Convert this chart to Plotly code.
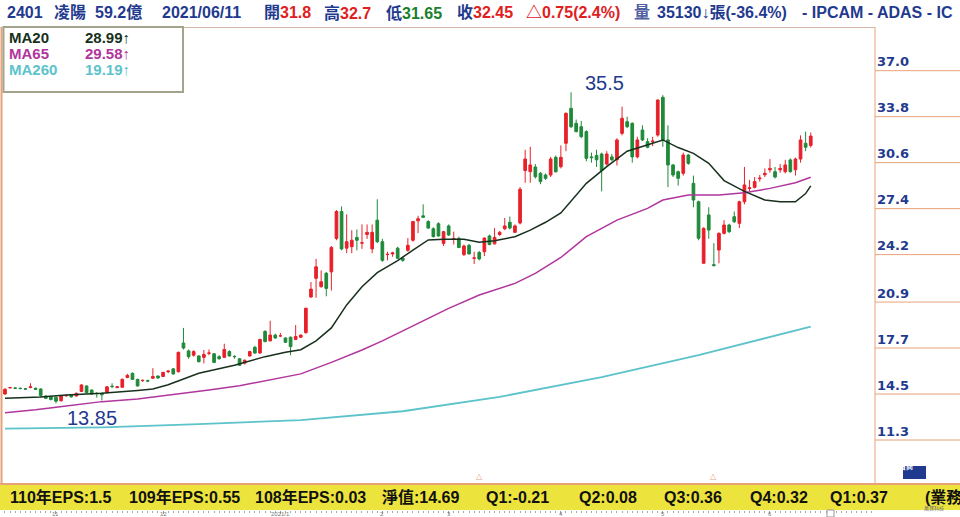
import plotly.graph_objects as go
import pandas as pd

# ---------------- data ----------------
holidays = ["2021-01-01", "2021-02-08", "2021-02-09", "2021-02-10", "2021-02-11",
            "2021-02-12", "2021-02-15", "2021-02-16", "2021-03-01", "2021-04-02", "2021-04-05"]
dates = [d.strftime("%Y-%m-%d") for d in pd.bdate_range("2020-10-19", "2021-06-11")
         if d.strftime("%Y-%m-%d") not in holidays]

opens = [14.50, 14.93, 14.92, 14.90, 14.86, 14.95, 14.90, 14.85, 14.36, 14.30,
         14.28, 14.03, 14.38, 14.45, 14.36, 14.68, 15.06, 14.78, 14.55, 14.55,
         14.62, 15.05, 14.95, 14.97, 15.65, 15.94, 15.52, 15.43, 15.42, 15.60,
         15.75, 15.72, 16.05, 16.25, 16.05, 18.05, 17.50, 17.20, 17.15, 17.05,
         17.33, 17.30, 17.10, 17.05, 17.45, 17.12, 16.95, 16.65, 17.15, 17.75,
         17.35, 18.85, 18.20, 18.60, 18.55, 18.40, 18.45, 18.30, 18.45, 18.77,
         21.25, 22.55, 21.97, 22.90, 23.00, 25.33, 27.20, 24.65, 24.75, 25.40,
         25.00, 25.60, 24.60, 26.60, 25.10, 24.20, 24.25, 24.65, 23.95, 24.50,
         25.20, 26.55, 26.90, 26.50, 26.00, 26.35, 24.98, 26.20, 25.30, 25.33,
         24.20, 24.85, 23.95, 24.35, 24.40, 25.50, 24.95, 25.60, 26.00, 26.45,
         25.75, 26.40, 30.05, 29.97, 30.30, 29.86, 29.74, 29.74, 30.97, 30.32,
         31.95, 34.38, 33.34, 33.10, 32.76, 31.00, 31.10, 31.20, 30.50, 31.00,
         30.80, 32.64, 33.45, 33.34, 31.00, 32.87, 32.06, 32.05, 32.52, 35.15,
         32.18, 30.44, 29.97, 29.86, 31.13, 29.16, 27.88, 23.60, 26.96, 23.50,
         24.52, 25.68, 26.26, 26.84, 26.38, 27.88, 28.80, 28.88, 29.48, 29.75,
         30.10, 29.97, 30.10, 29.97, 30.79, 30.10, 30.85, 31.95, 31.80]
highs = [14.90, 15.00, 14.97, 14.95, 14.92, 15.25, 14.95, 14.90, 14.40, 14.35,
         14.32, 14.42, 14.45, 14.50, 14.60, 15.18, 15.10, 14.80, 14.62, 14.60,
         15.05, 15.25, 15.05, 15.58, 15.90, 16.00, 15.56, 15.50, 15.50, 16.30,
         15.80, 16.05, 16.15, 16.30, 17.45, 19.10, 17.60, 17.55, 17.20, 17.56,
         17.60, 17.35, 17.20, 18.00, 17.55, 17.20, 17.00, 16.90, 17.50, 17.85,
         18.35, 18.95, 19.60, 18.70, 18.75, 18.45, 18.50, 19.30, 18.65, 20.50,
         22.30, 23.90, 23.10, 23.00, 24.80, 27.30, 27.55, 27.00, 25.90, 25.95,
         26.30, 26.30, 26.30, 28.05, 25.30, 24.40, 24.40, 24.75, 24.05, 25.35,
         26.55, 26.90, 27.70, 26.60, 26.10, 26.45, 25.85, 26.30, 25.80, 25.45,
         24.90, 24.95, 24.40, 24.45, 25.40, 25.60, 26.05, 25.85, 26.75, 26.85,
         26.30, 28.90, 31.50, 31.70, 30.50, 29.95, 29.85, 31.00, 31.10, 31.80,
         34.10, 35.50, 33.60, 33.50, 32.85, 31.30, 31.50, 31.30, 31.40, 31.20,
         32.30, 34.50, 33.80, 33.40, 32.40, 33.20, 32.30, 32.40, 35.00, 35.30,
         33.20, 30.50, 30.05, 31.30, 31.20, 29.70, 27.95, 26.10, 27.50, 25.00,
         25.75, 26.60, 26.35, 27.20, 27.95, 30.30, 29.40, 29.60, 29.74, 30.20,
         30.85, 30.30, 30.50, 30.80, 30.90, 30.95, 32.50, 32.76, 32.70]
lows = [14.45, 14.88, 14.85, 14.83, 14.80, 14.90, 14.80, 14.30, 14.15, 14.05,
        13.85, 13.98, 14.30, 14.25, 14.33, 14.65, 14.55, 14.45, 14.25, 14.05,
        14.55, 14.90, 14.90, 14.95, 15.60, 15.48, 15.02, 15.35, 15.35, 15.55,
        15.55, 15.70, 15.95, 15.85, 16.00, 17.60, 16.95, 17.10, 16.70, 16.63,
        17.20, 16.65, 16.90, 17.00, 17.10, 16.95, 16.45, 16.55, 17.10, 17.30,
        17.30, 18.10, 18.15, 18.35, 18.45, 18.05, 17.20, 18.25, 18.40, 18.70,
        21.20, 21.20, 21.90, 21.30, 21.70, 25.20, 24.50, 24.30, 24.30, 24.50,
        24.60, 25.30, 24.30, 25.00, 23.70, 23.80, 24.05, 23.90, 23.70, 24.40,
        25.10, 25.70, 26.75, 26.00, 25.40, 25.45, 24.80, 25.50, 24.90, 24.65,
        24.10, 24.20, 23.55, 23.80, 24.10, 24.85, 24.90, 25.50, 25.90, 25.95,
        25.70, 26.30, 29.20, 29.20, 29.50, 29.10, 29.40, 29.60, 29.90, 30.20,
        31.40, 33.00, 32.70, 32.30, 30.70, 30.60, 30.30, 28.60, 30.40, 30.70,
        30.40, 32.50, 33.00, 30.60, 30.90, 32.10, 31.60, 31.75, 32.40, 31.70,
        28.90, 29.60, 29.00, 29.70, 30.45, 27.50, 25.20, 23.55, 25.30, 23.36,
        23.60, 25.60, 25.70, 26.40, 26.05, 27.70, 28.60, 28.80, 29.28, 29.60,
        29.90, 29.50, 29.90, 29.85, 29.90, 29.70, 30.60, 31.40, 31.65]
closes = [14.83, 14.95, 14.90, 14.88, 14.85, 15.00, 14.83, 14.40, 14.20, 14.12,
          14.00, 14.38, 14.40, 14.30, 14.55, 15.13, 14.60, 14.50, 14.53, 14.45,
          15.00, 15.02, 15.00, 15.52, 15.80, 15.52, 15.06, 15.45, 15.40, 15.72,
          15.62, 16.00, 16.10, 15.90, 17.40, 17.70, 17.10, 17.45, 16.75, 17.25,
          17.35, 16.70, 16.95, 17.60, 17.15, 17.10, 16.50, 16.85, 17.45, 17.35,
          18.30, 18.15, 18.60, 18.40, 18.55, 18.10, 17.80, 18.50, 18.60, 20.47,
          21.80, 23.35, 22.31, 21.85, 24.70, 27.20, 24.60, 25.10, 25.20, 25.20,
          25.02, 25.75, 25.75, 25.10, 23.80, 24.22, 24.32, 23.95, 23.80, 24.85,
          26.50, 26.70, 26.80, 26.05, 25.45, 25.50, 25.80, 25.57, 25.32, 24.70,
          24.80, 24.25, 23.97, 23.90, 25.35, 24.90, 25.40, 25.75, 26.20, 26.05,
          26.20, 28.75, 30.85, 30.44, 29.62, 29.28, 29.51, 30.85, 29.97, 30.97,
          34.03, 33.10, 32.76, 32.41, 30.90, 30.95, 30.80, 30.05, 31.20, 30.80,
          32.18, 33.69, 33.10, 31.00, 32.18, 32.18, 31.67, 32.10, 34.96, 32.18,
          30.44, 29.74, 29.51, 31.13, 30.55, 28.00, 25.34, 26.03, 25.91, 23.45,
          25.68, 26.26, 25.80, 26.49, 27.88, 29.05, 28.85, 29.28, 29.52, 29.86,
          30.20, 29.60, 30.20, 30.44, 29.97, 30.85, 32.18, 31.67, 32.45]

ma20_pos = [0, 7, 12, 19, 26, 29, 32, 34, 38, 45, 51, 55, 58, 61, 64, 67, 70, 73, 77, 80,
            83, 86, 90, 93, 96, 100, 103, 106, 109, 114, 118, 122, 126, 129, 132, 135,
            138, 141, 145, 149, 152, 155, 157, 158]
ma20_val = [14.20, 14.30, 14.43, 14.55, 14.75, 14.85, 15.15, 15.40, 15.95, 16.50, 17.10,
            17.40, 17.58, 18.20, 19.10, 20.70, 21.97, 22.95, 23.78, 24.52, 25.22, 25.27,
            25.27, 25.06, 25.16, 25.45, 25.90, 26.45, 27.10, 29.16, 30.32, 31.40, 31.85,
            32.18, 31.65, 31.25, 30.55, 29.35, 28.60, 28.00, 27.88, 27.88, 28.45, 28.99]
ma65_pos = [0, 6, 12, 19, 26, 33, 40, 46, 52, 58, 64, 70, 74, 77, 81, 87, 93, 100, 104,
            109, 114, 120, 126, 129, 134, 140, 145, 150, 155, 158]
ma65_val = [13.20, 13.40, 13.67, 13.97, 14.15, 14.45, 14.78, 15.08, 15.48, 15.90, 16.70,
            17.56, 18.20, 18.72, 19.42, 20.46, 21.39, 22.20, 22.90, 24.00, 25.45, 26.60,
            27.42, 28.00, 28.35, 28.35, 28.50, 28.81, 29.20, 29.58]
ma260_pos = [0, 19, 38, 58, 78, 97, 117, 136, 158]
ma260_val = [12.09, 12.18, 12.41, 12.69, 13.30, 14.30, 15.68, 17.20, 19.19]

month_labels = ["11", "12", "2021/1", "2", "3", "4", "5", "6"]
y_labels = ["37.0", "33.8", "30.6", "27.4", "24.2", "20.9", "17.7", "14.5", "11.3"]
event_pos = [93, 139]

legend_rows = [("MA20", "28.99↑", "#17301c"), ("MA65", "29.58↑", "#b0359c"),
               ("MA260", "19.19↑", "#5cc3cb")]

NAVY = "#1f3a8f"
RED_T = "#e0201e"
GREEN_T = "#1a7f2a"
header = [
    (5, f"<span style='color:{NAVY}'>2401</span>"),
    (52, f"<span style='color:{NAVY}'>凌陽</span>"),
    (93, f"<span style='color:{NAVY}'>59.2億</span>"),
    (160, f"<span style='color:{NAVY}'>2021/06/11</span>"),
    (262, f"<span style='color:{NAVY}'>開</span><span style='color:{RED_T}'>31.8</span>"),
    (322, f"<span style='color:{NAVY}'>高</span><span style='color:{RED_T}'>32.7</span>"),
    (384, f"<span style='color:{NAVY}'>低</span><span style='color:{GREEN_T}'>31.65</span>"),
    (455, f"<span style='color:{NAVY}'>收</span><span style='color:{RED_T}'>32.45</span>"),
    (524, f"<span style='color:{RED_T}'>△0.75(2.4%)</span>"),
    (632, f"<span style='color:#5060a0'>量</span>"),
    (655, f"<span style='color:{NAVY}'>35130↓張(-36.4%)</span>"),
    (800, f"<span style='color:{NAVY}'>- IPCAM - ADAS - IC</span>"),
]
footer = [(8, "110年EPS:1.5"), (127, "109年EPS:0.55"), (253, "108年EPS:0.03"),
          (380, "淨值:14.69"), (484, "Q1:-0.21"), (577, "Q2:0.08"), (662, "Q3:0.36"),
          (748, "Q4:0.32"), (828, "Q1:0.37"), (923, "(業務")]

# ---------------- geometry helpers ----------------
W, H = 960, 517
L, R, T, B = 3, 85, 28, 0
PW, PH = W - L - R, H - T - B


def px(x):
    return (x - L) / PW


def py(y):
    return (H - y) / PH


n = len(opens)
idx = list(range(n))
month_pos = []
for i in range(1, n):
    if dates[i][:7] != dates[i - 1][:7]:
        month_pos.append(i)

RED = "#e8202a"
GREEN = "#1f8a3a"
SALMON = "#e8a27a"

fig = go.Figure()
fig.add_trace(go.Candlestick(
    x=idx, open=opens, high=highs, low=lows, close=closes,
    increasing=dict(line=dict(color=RED, width=1), fillcolor=RED),
    decreasing=dict(line=dict(color=GREEN, width=1), fillcolor=GREEN),
    whiskerwidth=0, hoverinfo="skip"))
fig.add_trace(go.Scatter(x=ma260_pos, y=ma260_val, mode="lines",
                         line=dict(color="#5cc3cb", width=1.8), hoverinfo="skip"))
fig.add_trace(go.Scatter(x=ma65_pos, y=ma65_val, mode="lines",
                         line=dict(color="#b0359c", width=1.5), hoverinfo="skip"))
fig.add_trace(go.Scatter(x=ma20_pos, y=ma20_val, mode="lines",
                         line=dict(color="#17301c", width=1.5), hoverinfo="skip"))

shapes = []
# yellow info bar
shapes.append(dict(type="rect", xref="paper", yref="paper", x0=px(0), x1=px(960),
                   y0=py(510), y1=py(484), fillcolor="#ece43c", line=dict(width=0), layer="below"))
shapes.append(dict(type="line", xref="paper", yref="paper", x0=px(0), x1=px(960),
                   y0=py(484), y1=py(484), line=dict(color=SALMON, width=2)))
# frame
shapes.append(dict(type="line", xref="paper", yref="paper", x0=px(1.5), x1=px(1.5),
                   y0=py(27), y1=py(484), line=dict(color=SALMON, width=2)))
shapes.append(dict(type="line", xref="paper", yref="paper", x0=px(0), x1=1,
                   y0=py(27.5), y1=py(27.5), line=dict(color="#d8b8a8", width=1)))
shapes.append(dict(type="line", xref="paper", yref="paper", x0=1, x1=1,
                   y0=py(27), y1=py(484), line=dict(color=SALMON, width=1)))
# right panel grid lines at tick values
for lab in y_labels:
    shapes.append(dict(type="line", xref="paper", yref="y", x0=1, x1=px(960),
                       y0=float(lab), y1=float(lab), line=dict(color=SALMON, width=1)))
# legend box
shapes.append(dict(type="rect", xref="paper", yref="paper", x0=px(3.5), x1=px(183),
                   y0=py(92), y1=py(27), fillcolor="white",
                   line=dict(color="#a4a48c", width=2)))
# logo box
shapes.append(dict(type="rect", xref="paper", yref="paper", x0=px(903), x1=px(926),
                   y0=py(479), y1=py(466), fillcolor="#1f3a8f", line=dict(width=0)))
# small box in the bottom strip
shapes.append(dict(type="rect", xref="paper", yref="paper", x0=px(827), x1=px(834),
                   y0=py(517), y1=py(510), fillcolor="white",
                   line=dict(color="#999999", width=1)))

ann = []
HF = "Liberation Sans, Noto Sans CJK TC, sans-serif"
for x, t in header:
    ann.append(dict(x=px(x), y=py(13), xref="paper", yref="paper", xanchor="left",
                    yanchor="middle", text=f"<b>{t}</b>", showarrow=False,
                    font=dict(family=HF, size=16)))
for x, t in footer:
    ann.append(dict(x=px(x), y=py(497), xref="paper", yref="paper", xanchor="left",
                    yanchor="middle", text=f"<b>{t}</b>", showarrow=False,
                    font=dict(family=HF, size=16, color="#111111")))
for k, (name, val, col) in enumerate(legend_rows):
    yy = 37 + 16 * k
    ann.append(dict(x=px(7), y=py(yy), xref="paper", yref="paper", xanchor="left",
                    yanchor="middle", text=f"<b>{name}</b>", showarrow=False,
                    font=dict(family=HF, size=15, color=col)))
    ann.append(dict(x=px(83), y=py(yy), xref="paper", yref="paper", xanchor="left",
                    yanchor="middle", text=f"<b>{val}</b>", showarrow=False,
                    font=dict(family=HF, size=15, color=col)))
# month labels along the bottom strip
for pos, lab in zip(month_pos, month_labels):
    ann.append(dict(x=pos, y=py(514), xref="x", yref="paper", xanchor="center",
                    yanchor="middle", text=lab, showarrow=False,
                    font=dict(family=HF, size=6, color="#777777")))
# high / low labels
hi_i = max(idx, key=lambda i: highs[i])
lo_i = min(idx, key=lambda i: lows[i])
ann.append(dict(x=hi_i + 6.5, y=highs[hi_i] + 0.65, xref="x", yref="y", text=f"{highs[hi_i]:.1f}",
                showarrow=False, font=dict(family=HF, size=20, color=NAVY)))
ann.append(dict(x=lo_i + 7, y=lows[lo_i] - 1.05, xref="x", yref="y", text=f"{lows[lo_i]:.2f}",
                showarrow=False, font=dict(family=HF, size=20, color=NAVY)))
for e in event_pos:
    ann.append(dict(x=e, y=py(483), xref="x", yref="paper", yanchor="bottom", text="△",
                    showarrow=False, font=dict(size=8, color=SALMON)))
ann.append(dict(x=px(914.5), y=py(472.5), xref="paper", yref="paper", text="<b>萬寶商</b>",
                showarrow=False, font=dict(family=HF, size=7, color="white")))
ann.append(dict(x=px(946), y=py(514), xref="paper", yref="paper", text="萬寶科技",
                showarrow=False, font=dict(family=HF, size=5, color="#667")))

fig.update_layout(
    width=W, height=H, margin=dict(l=L, r=R, t=T, b=B, autoexpand=False),
    paper_bgcolor="white", plot_bgcolor="white", showlegend=False,
    boxgap=0.25, shapes=shapes, annotations=ann, hovermode=False,
    xaxis=dict(range=[-0.39, 170.6], anchor="free", position=py(510), showgrid=False,
               zeroline=False, showline=False, tickmode="array", tickvals=month_pos,
               showticklabels=False, ticks="outside", ticklen=3, tickcolor="#999999",
               automargin=False,
               minor=dict(tickmode="linear", tick0=0, dtick=1, ticks="outside", ticklen=2,
                          tickcolor="#aaaaaa"),
               rangeslider=dict(visible=False), fixedrange=True),
    yaxis=dict(domain=[py(483), 1], range=[8.308, 39.97], side="right", showgrid=False,
               zeroline=False, showline=False,
               tickmode="array", tickvals=[float(v) for v in y_labels], ticktext=y_labels,
               ticks="", ticklabelshift=-9, ticklabelstandoff=1, automargin=False,
               tickfont=dict(family="DejaVu Sans", size=13, color=NAVY, weight="bold"),
               fixedrange=True),
)

fig.write_html("out.html")
